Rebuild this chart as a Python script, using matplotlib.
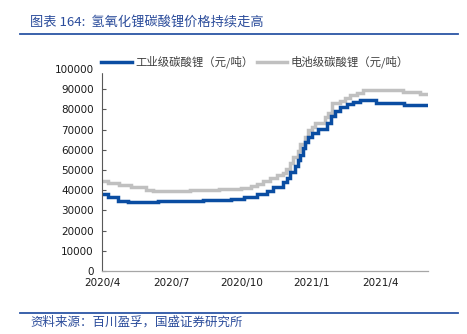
import matplotlib
matplotlib.use("Agg")
import matplotlib.pyplot as plt
import pandas as pd

plt.rcParams['font.family'] = ['Noto Sans CJK SC', 'DejaVu Sans']

title = "图表 164:  氢氧化锂碳酸锂价格持续走高"
source = "资料来源：百川盈孚，国盛证券研究所"
series_names = ["工业级碳酸锂（元/吨）", "电池级碳酸锂（元/吨）"]

ind_dates = ["2020-04-01", "2020-04-09", "2020-04-22", "2020-05-05", "2020-06-13",
             "2020-08-12", "2020-09-17", "2020-10-04", "2020-10-22", "2020-11-04",
             "2020-11-12", "2020-11-24", "2020-11-30", "2020-12-04", "2020-12-10",
             "2020-12-14", "2020-12-17", "2020-12-21", "2020-12-24", "2020-12-28",
             "2021-01-02", "2021-01-09", "2021-01-22", "2021-01-27", "2021-02-01",
             "2021-02-08", "2021-02-16", "2021-02-25", "2021-03-06", "2021-03-27",
             "2021-05-03", "2021-06-03"]
ind_values = [38000, 36800, 34800, 34200, 34600,
              35100, 35700, 36700, 38000, 39500,
              41500, 44000, 46000, 49000, 52000,
              55000, 57500, 61000, 64000, 66500,
              68500, 70500, 73500, 76500, 79000,
              81000, 82500, 83500, 84800, 83000,
              82000, 82000]

bat_dates = ["2020-04-01", "2020-04-09", "2020-04-23", "2020-05-09", "2020-05-29",
             "2020-06-07", "2020-07-26", "2020-08-12", "2020-09-01", "2020-09-30",
             "2020-10-13", "2020-10-21", "2020-10-30", "2020-11-08", "2020-11-17",
             "2020-11-24", "2020-11-28", "2020-12-04", "2020-12-08", "2020-12-14",
             "2020-12-17", "2020-12-23", "2020-12-28", "2021-01-02", "2021-01-06",
             "2021-01-19", "2021-01-23", "2021-01-28", "2021-02-08", "2021-02-14",
             "2021-02-21", "2021-03-02", "2021-03-10", "2021-05-01", "2021-05-24",
             "2021-06-03"]
bat_values = [44500, 43500, 42800, 41800, 40300,
              39700, 39900, 40300, 40800, 41300,
              42000, 43000, 44800, 45800, 47300,
              48500, 50700, 53500, 56200, 59500,
              63100, 66500, 69600, 71500, 73500,
              76000, 78000, 83000, 84400, 85500,
              86900, 88000, 89800, 88600, 87800,
              87800]

x_ticks = ["2020-04-01", "2020-07-01", "2020-10-01", "2021-01-01", "2021-04-01"]
x_ticklabels = ["2020/4", "2020/7", "2020/10", "2021/1", "2021/4"]
y_ticks = [0, 10000, 20000, 30000, 40000, 50000, 60000, 70000, 80000, 90000, 100000]

W, H = 467, 334
fig = plt.figure(figsize=(W / 100, H / 100), dpi=100)
ax = fig.add_axes([102 / W, 1 - 271 / H, (428 - 102) / W, (271 - 69) / H])

blue = "#0A4DA2"
gray = "#C0C0C0"
l2, = ax.plot(pd.to_datetime(bat_dates), bat_values, drawstyle="steps-post",
              color=gray, lw=2.5, label=series_names[1], solid_joinstyle="miter")
l1, = ax.plot(pd.to_datetime(ind_dates), ind_values, drawstyle="steps-post",
              color=blue, lw=2.5, label=series_names[0], solid_joinstyle="miter")

ax.set_xlim(pd.Timestamp("2020-04-01"), pd.Timestamp("2021-06-03"))
ax.set_ylim(0, 100000)
ax.set_yticks(y_ticks)
ax.set_yticklabels([str(v) for v in y_ticks])
ax.set_xticks(pd.to_datetime(x_ticks))
ax.set_xticklabels(x_ticklabels)

for s in ["top", "right"]:
    ax.spines[s].set_visible(False)
ax.spines["left"].set_color("#595959")
ax.spines["bottom"].set_color("#A6A6A6")
ax.spines["left"].set_linewidth(0.8)
ax.spines["bottom"].set_linewidth(0.9)
ax.tick_params(axis="y", direction="in", length=3, width=0.8, color="#595959",
               labelsize=7.5, labelcolor="#1a1a1a", pad=6)
ax.tick_params(axis="x", length=0, labelsize=7.5, labelcolor="#1a1a1a", pad=5)
for lab in ax.get_xticklabels() + ax.get_yticklabels():
    lab.set_fontfamily(["DejaVu Sans"])

leg = fig.legend(handles=[l1, l2], loc="center", bbox_to_anchor=(255 / W, 1 - 62 / H),
                 ncol=2, frameon=True, fontsize=8.2, handlelength=2.7, handletextpad=0.3,
                 columnspacing=0.3, borderaxespad=0, borderpad=0.3)
leg.get_frame().set_edgecolor("white")
leg.get_frame().set_facecolor("white")
leg.get_frame().set_alpha(1)
for t in leg.get_texts():
    t.set_color("#404040")

title_color = "#2B4C9B"
fig.text(30 / W, 1 - 22 / H, title, fontsize=9.5, color=title_color, va="center", ha="left")
fig.add_artist(plt.Line2D([20 / W, 458 / W], [1 - 34 / H, 1 - 34 / H], color="#2B55A5", lw=1.3))
fig.add_artist(plt.Line2D([20 / W, 458 / W], [1 - 313 / H, 1 - 313 / H], color="#2B55A5", lw=1.3))
fig.text(30 / W, 1 - 322.5 / H, source, fontsize=9, color=title_color, va="center", ha="left")

fig.savefig("out.png", dpi=100)
